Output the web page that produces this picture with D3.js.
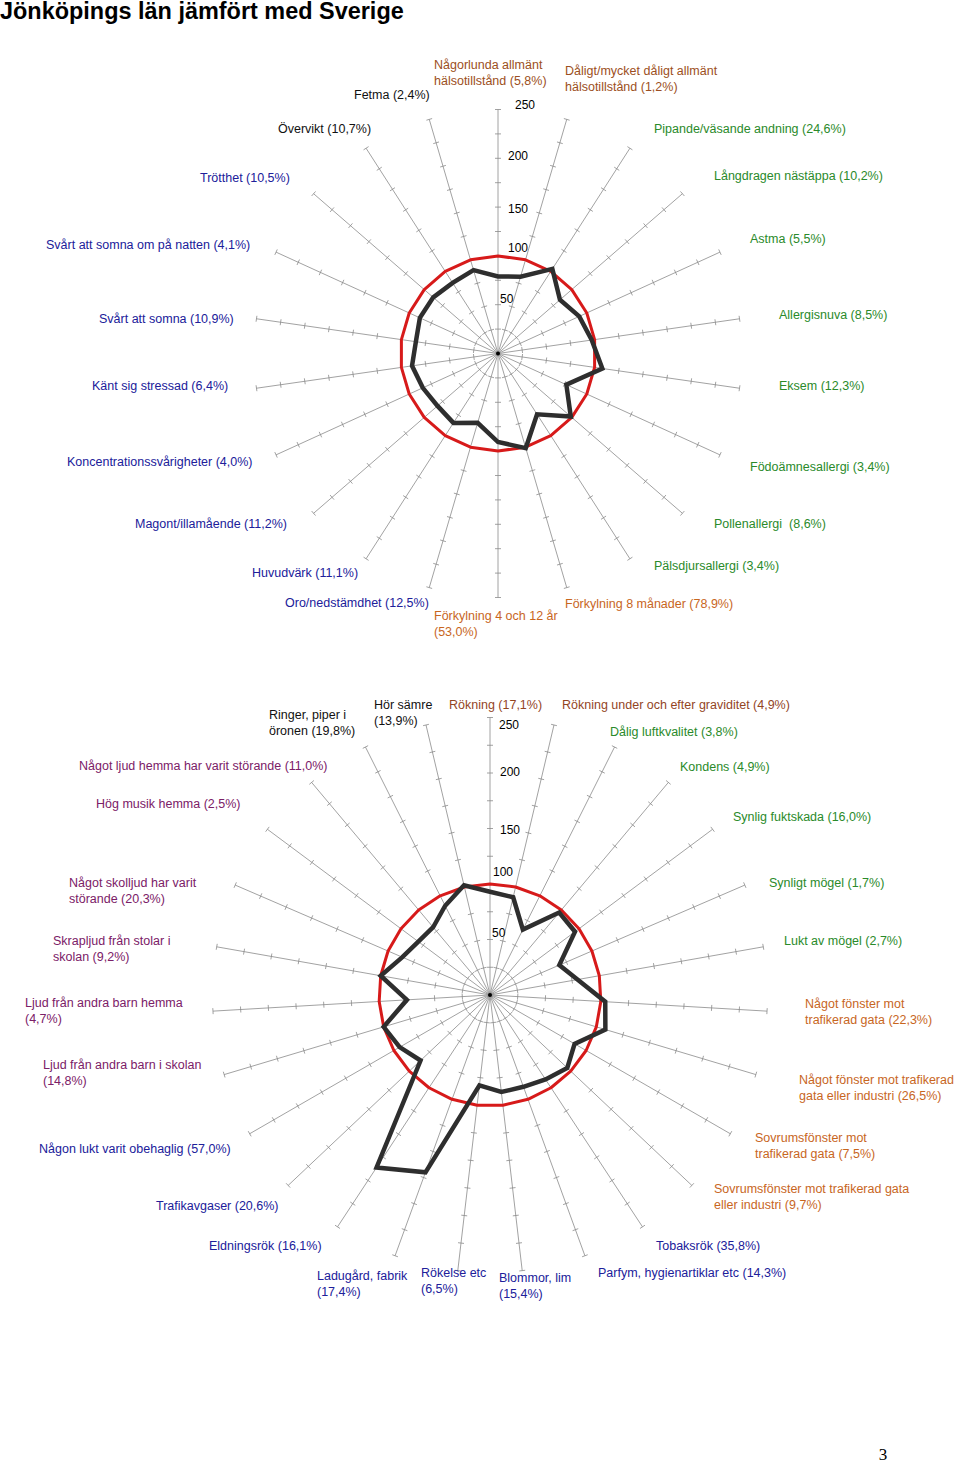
<!DOCTYPE html>
<html>
<head>
<meta charset="utf-8">
<script src="https://cdn.jsdelivr.net/npm/d3@7"></script>
<style>
  html, body { margin: 0; padding: 0; background: #fff; }
  svg { display: block; }
  text { font-family: "Liberation Sans", Arial, sans-serif; }
</style>
</head>
<body>
<svg id="chart" width="960" height="1464"></svg>
<script>
// ---------------- DATA ----------------
const titleText = "Jönköpings län jämfört med Sverige";
const pageNumber = "3";
const radialTicks = [50, 100, 150, 200, 250];
const minorStep = 25;
const maxValue = 250;

const chart1Categories = [
  "Någorlunda allmänt\nhälsotillstånd (5,8%)",
  "Dåligt/mycket dåligt allmänt\nhälsotillstånd (1,2%)",
  "Pipande/väsande andning (24,6%)",
  "Långdragen nästäppa (10,2%)",
  "Astma (5,5%)",
  "Allergisnuva (8,5%)",
  "Eksem (12,3%)",
  "Födoämnesallergi (3,4%)",
  "Pollenallergi  (8,6%)",
  "Pälsdjursallergi (3,4%)",
  "Förkylning 8 månader (78,9%)",
  "Förkylning 4 och 12 år\n(53,0%)",
  "Oro/nedstämdhet (12,5%)",
  "Huvudvärk (11,1%)",
  "Magont/illamående (11,2%)",
  "Koncentrationssvårigheter (4,0%)",
  "Känt sig stressad (6,4%)",
  "Svårt att somna (10,9%)",
  "Svårt att somna om på natten (4,1%)",
  "Trötthet (10,5%)",
  "Övervikt (10,7%)",
  "Fetma (2,4%)"
];
const chart1Groups = ["general","general","allergy","allergy","allergy","allergy","allergy","allergy","allergy","allergy",
  "cold","cold","symptom","symptom","symptom","symptom","symptom","symptom","symptom","symptom","weight","weight"];
const chart1County = [79, 82, 103, 84, 91.5, 97, 108, 77, 98.7, 74, 101, 90.7, 74, 84.5, 82, 84.7, 89, 85, 88, 87.8, 86, 89];
const chart1Sweden = [100, 100, 100, 100, 100, 100, 100, 100, 100, 100, 100, 100, 100, 100, 100, 100, 100, 100, 100, 100, 100, 100];

const chart2Categories = [
  "Rökning (17,1%)",
  "Rökning under och efter graviditet (4,9%)",
  "Dålig luftkvalitet (3,8%)",
  "Kondens (4,9%)",
  "Synlig fuktskada (16,0%)",
  "Synligt mögel (1,7%)",
  "Lukt av mögel (2,7%)",
  "Något fönster mot\ntrafikerad gata (22,3%)",
  "Något fönster mot trafikerad\ngata eller industri (26,5%)",
  "Sovrumsfönster mot\ntrafikerad gata (7,5%)",
  "Sovrumsfönster mot trafikerad gata\neller industri (9,7%)",
  "Tobaksrök (35,8%)",
  "Parfym, hygienartiklar etc (14,3%)",
  "Blommor, lim\n(15,4%)",
  "Rökelse etc\n(6,5%)",
  "Ladugård, fabrik\n(17,4%)",
  "Eldningsrök (16,1%)",
  "Trafikavgaser (20,6%)",
  "Någon lukt varit obehaglig (57,0%)",
  "Ljud från andra barn i skolan\n(14,8%)",
  "Ljud från andra barn hemma\n(4,7%)",
  "Skrapljud från stolar i\nskolan (9,2%)",
  "Något skolljud har varit\nstörande (20,3%)",
  "Hög musik hemma (2,5%)",
  "Något ljud hemma har varit störande (11,0%)",
  "Ringer, piper i\nöronen (19,8%)",
  "Hör sämre\n(13,9%)"
];
const chart2Groups = ["smoke","smoke","indoor","indoor","indoor","indoor","indoor","window","window","window","window",
  "odor","odor","odor","odor","odor","odor","odor","odor","noise","noise","noise","noise","noise","noise","hearing","hearing"];
const chart2County = [93, 90.5, 66, 97, 95.5, 68, 80, 104, 108.5, 88, 95.7, 91, 88, 88, 82, 170, 186, 86, 94, 100, 75, 100, 86, 80.5, 79.7, 90, 101.6];
const chart2Sweden = [100, 100, 100, 100, 100, 100, 100, 100, 100, 100, 100, 100, 100, 100, 100, 100, 100, 100, 100, 100, 100, 100, 100, 100, 100, 100, 100];

// ---------------- LAYOUT / STYLE ----------------
const groupColor = {
  general: "#9c4f22", cold: "#c8661e", allergy: "#2a8a2a", symptom: "#20209a", weight: "#111111",
  smoke: "#93451f", indoor: "#2a8a2a", window: "#c8661e", odor: "#20209a", noise: "#7b2067", hearing: "#111111"
};
// label anchor (left x, vertical centre of first line)
const chart1LabelPos = [
  [434,66],[565,72],[654,130],[714,177],[750,240],[779,316],[779,387],[750,468],[714,525],[654,567],
  [565,605],[434,617],[285,604],[252,574],[135,525],[67,463],[92,387],[99,320],[46,246],[200,179],[278,130],[354,96]
];
const chart2LabelPos = [
  [449,706],[562,706],[610,733],[680,768],[733,818],[769,884],[784,942],[805,1005],[799,1081],[755,1139],
  [714,1190],[656,1247],[598,1274],[499,1279],[421,1274],[317,1277],[209,1247],[156,1207],[39,1150],[43,1066],
  [25,1004],[53,942],[69,884],[96,805],[79,767],[269,716],[374,706]
];
// tick-label nudges (Excel-like placement)
const chart1TickOffset = [[2,-5],[10,-7],[10,3],[10,-1],[17,-4]];
const chart2TickOffset = [[2,-6],[3,-11],[10,2],[10,0],[9,8]];
const charts = [
  { cx: 498, cy: 353.5, R: 244, cats: chart1Categories, groups: chart1Groups, county: chart1County, sweden: chart1Sweden, pos: chart1LabelPos, tickOff: chart1TickOffset },
  { cx: 490, cy: 995, R: 277.5, cats: chart2Categories, groups: chart2Groups, county: chart2County, sweden: chart2Sweden, pos: chart2LabelPos, tickOff: chart2TickOffset }
];

const svg = d3.select("#chart");
svg.append("rect").attr("width", 960).attr("height", 1464).attr("fill", "#fff");

// title
const title = svg.append("text").attr("x", 0).attr("y", 18.5)
  .attr("font-weight", "bold").attr("font-size", 21).attr("fill", "#000").text(titleText);
const tw = title.node().getComputedTextLength();
title.attr("font-size", 21 * 404 / tw);

svg.append("text").attr("x", 883).attr("y", 1460).attr("text-anchor", "middle")
  .style("font-family", "'Liberation Serif', 'DejaVu Serif', serif")
  .attr("font-size", 17).attr("fill", "#000").text(pageNumber);

charts.forEach(c => {
  const n = c.cats.length;
  const r = d3.scaleLinear().domain([0, maxValue]).range([0, c.R]);
  const angle = d3.scaleLinear().domain([0, n]).range([0, 2 * Math.PI]);
  const g = svg.append("g").attr("transform", `translate(${c.cx},${c.cy})`);

  const minorTicks = d3.range(minorStep, maxValue + 0.001, minorStep);
  // axes
  c.cats.forEach((_, i) => {
    const a = angle(i);
    const sx = Math.sin(a), sy = -Math.cos(a);
    g.append("line").attr("x1", 0).attr("y1", 0)
      .attr("x2", r(maxValue) * sx).attr("y2", r(maxValue) * sy)
      .attr("stroke", "#8a8a8a").attr("stroke-width", 0.8);
    minorTicks.forEach(t => {
      const px = r(t) * sx, py = r(t) * sy;
      const nx = -sy * 3, ny = sx * 3;
      g.append("line").attr("x1", px - nx).attr("y1", py - ny).attr("x2", px + nx).attr("y2", py + ny)
        .attr("stroke", "#8a8a8a").attr("stroke-width", 0.8);
    });
  });
  // tick labels along the vertical axis
  radialTicks.forEach((t, k) => {
    const [ox, oy] = c.tickOff[k];
    g.append("text").attr("x", ox).attr("y", -r(t) + oy)
      .attr("dominant-baseline", "middle").attr("font-size", 12).attr("fill", "#000").text(t);
  });

  const radial = d3.lineRadial()
    .angle((d, i) => angle(i))
    .radius(d => r(d))
    .curve(d3.curveLinearClosed);

  g.append("path").attr("d", radial(c.sweden)).attr("fill", "none")
    .attr("stroke", "#d71a1a").attr("stroke-width", 3).attr("stroke-linejoin", "round");
  g.append("path").attr("d", radial(c.county)).attr("fill", "none")
    .attr("stroke", "#2e2e2e").attr("stroke-width", 4.5).attr("stroke-linejoin", "miter");

  g.append("circle").attr("r", 2).attr("fill", "#000");

  // category labels
  c.cats.forEach((label, i) => {
    const [x, y] = c.pos[i];
    const t = svg.append("text").attr("x", x).attr("y", y)
      .attr("font-size", 12.5).attr("fill", groupColor[c.groups[i]])
      .attr("dominant-baseline", "middle").attr("xml:space", "preserve");
    label.split("\n").forEach((line, k) => {
      t.append("tspan").attr("x", x).attr("y", y + k * 15.5).text(line);
    });
  });
});
</script>
</body>
</html>
